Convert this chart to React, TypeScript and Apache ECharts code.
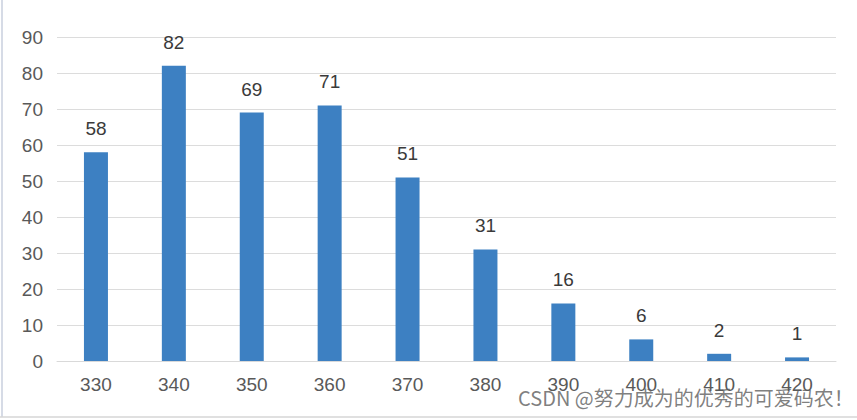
import React, { useEffect, useRef } from "react";
import * as echarts from "echarts";

const categories = ["330", "340", "350", "360", "370", "380", "390", "400", "410", "420"];
const counts = [58, 82, 69, 71, 51, 31, 16, 6, 2, 1];
const watermark = "CSDN @努力成为的优秀的可爱码农！";

export default function App() {
  const ref = useRef<HTMLDivElement>(null);
  useEffect(() => {
    if (!ref.current) return;
    const chart = echarts.init(ref.current, null, { renderer: "svg" });
    const font = "Liberation Sans, Arial, sans-serif";
    chart.setOption({
      animation: false,
      backgroundColor: "#ffffff",
      grid: { left: 57, right: 21, top: 37, bottom: 59, containLabel: false },
      xAxis: {
        type: "category",
        data: categories,
        axisLine: { show: true, lineStyle: { color: "#d9d9d9", width: 1 } },
        axisTick: { show: false },
        axisLabel: { color: "#595959", fontSize: 19, margin: 14, fontFamily: font },
      },
      yAxis: {
        type: "value",
        min: 0,
        max: 90,
        interval: 10,
        axisLine: { show: false },
        axisTick: { show: false },
        axisLabel: { color: "#595959", fontSize: 19, margin: 14, fontFamily: font },
        splitLine: { lineStyle: { color: "#dcdcdc", width: 1 } },
      },
      series: [
        {
          type: "bar",
          data: counts,
          barWidth: 24,
          itemStyle: { color: "#3d80c2" },
          label: {
            show: true,
            position: "top",
            distance: 14,
            color: "#3a3a3a",
            fontSize: 19,
            fontFamily: font,
          },
        },
      ],
      graphic: [
        { type: "line", shape: { x1: 2, y1: 0, x2: 2, y2: 417 }, style: { stroke: "#d6dbe6", lineWidth: 2 } },
        { type: "line", shape: { x1: 0, y1: 417, x2: 857, y2: 417 }, style: { stroke: "#d6d6d6", lineWidth: 1.5 } },
        {
          type: "text",
          left: 518,
          top: 387,
          style: {
            text: watermark,
            fill: "rgba(105,105,105,0.85)",
            fontSize: 20,
            fontFamily: "Noto Sans CJK SC, sans-serif",
          },
        },
      ],
    });
    return () => chart.dispose();
  }, []);
  return <div ref={ref} style={{ width: 857, height: 420, position: "absolute", left: 0, top: 0 }} />;
}
